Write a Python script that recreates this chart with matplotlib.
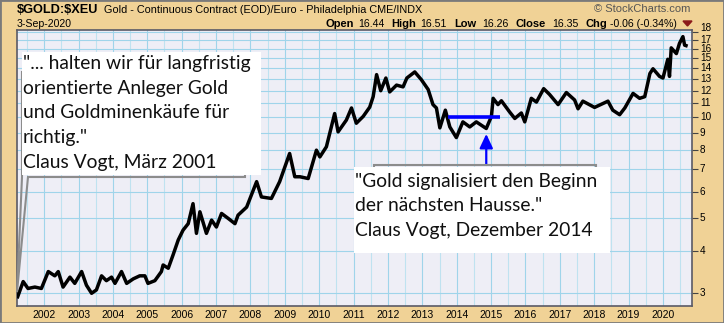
import numpy as np
import matplotlib
matplotlib.use('Agg')
import matplotlib.pyplot as plt
from matplotlib.patches import Rectangle, Polygon
from matplotlib.ticker import FixedLocator, NullLocator, NullFormatter
from matplotlib.transforms import blended_transform_factory, offset_copy

# gold / euro ratio (decimal year, value)
years = [2001.23, 2001.39, 2001.53, 2001.73, 2001.92, 2002.12, 2002.31, 2002.41, 2002.55, 2002.75,
         2002.89, 2003.09, 2003.23, 2003.38, 2003.52, 2003.67, 2003.81, 2003.96, 2004.06, 2004.25,
         2004.40, 2004.59, 2004.78, 2004.93, 2005.02, 2005.22, 2005.41, 2005.46, 2005.61, 2005.75,
         2005.90, 2006.04, 2006.19, 2006.33, 2006.43, 2006.53, 2006.72, 2006.87, 2007.01, 2007.16,
         2007.35, 2007.55, 2007.64, 2007.89, 2008.18, 2008.32, 2008.61, 2008.85, 2009.14, 2009.29,
         2009.44, 2009.68, 2009.92, 2010.02, 2010.21, 2010.45, 2010.55, 2010.79, 2010.94, 2011.08,
         2011.28, 2011.47, 2011.57, 2011.67, 2011.79, 2011.94, 2012.05, 2012.25, 2012.44, 2012.55,
         2012.78, 2012.97, 2013.17, 2013.31, 2013.41, 2013.51, 2013.67, 2013.80, 2013.99, 2014.18,
         2014.38, 2014.57, 2014.86, 2015.01, 2015.06, 2015.20, 2015.30, 2015.54, 2015.69, 2015.88,
         2015.98, 2016.17, 2016.32, 2016.53, 2016.70, 2016.95, 2017.19, 2017.43, 2017.53, 2017.67,
         2018.01, 2018.40, 2018.54, 2018.74, 2018.89, 2019.13, 2019.32, 2019.47, 2019.62, 2019.71,
         2019.90, 2020.00, 2020.14, 2020.19, 2020.24, 2020.39, 2020.48, 2020.58, 2020.63, 2020.67]
ratio = [2.92, 3.24, 3.09, 3.12, 3.09, 3.47, 3.37, 3.47, 3.12, 3.34,
         3.20, 3.47, 3.16, 2.99, 3.06, 3.37, 3.26, 3.34, 3.20, 3.47,
         3.20, 3.30, 3.37, 3.37, 3.20, 3.26, 3.47, 3.63, 3.55, 3.89,
         4.31, 4.61, 4.82, 5.53, 4.51, 5.23, 4.51, 4.94, 4.71, 5.17,
         5.00, 4.82, 5.11, 5.40, 6.43, 5.79, 5.73, 6.43, 7.80, 6.65,
         6.65, 6.57, 7.98, 7.62, 8.17, 10.26, 9.05, 9.81, 10.66, 9.60,
         10.06, 10.72, 11.52, 13.40, 12.00, 13.09, 11.90, 12.47, 12.32, 13.09,
         13.65, 12.95, 12.10, 10.91, 10.66, 9.30, 10.50, 9.36, 8.70, 9.69,
         9.36, 9.69, 9.26, 10.06, 11.39, 10.91, 11.20, 10.37, 9.92, 10.30,
         9.69, 11.39, 11.10, 12.17, 11.70, 10.91, 11.85, 11.26, 10.60, 11.17,
         10.70, 11.17, 10.50, 10.18, 10.66, 11.78, 11.39, 11.52, 13.50, 13.95,
         13.24, 13.09, 14.89, 13.24, 16.10, 15.48, 16.60, 17.39, 16.40, 16.35]

year_ticks = list(range(2002, 2021))
price_ticks = list(range(3, 19))

# blue resistance line and arrow
level_line = 10.0
level_from, level_to = 2013.75, 2015.27
arrow_year, arrow_tip, arrow_base = 2014.86, 8.92, 7.21

quote1 = ['"... halten wir für langfristig', 'orientierte Anleger Gold',
          'und Goldminenkäufe für', 'richtig."', 'Claus Vogt, März 2001']
quote2 = ['"Gold signalisiert den Beginn', 'der nächsten Hausse."', 'Claus Vogt, Dezember 2014']

W, H = 724, 323
TAN = '#F0D296'
fig = plt.figure(figsize=(W / 100, H / 100), dpi=100, facecolor=TAN)


def px(x, y):
    return x / W, 1 - y / H


ax = fig.add_axes([17 / W, 1 - 306 / H, (691.5 - 17) / W, (306 - 30) / H])
ax.set_facecolor('#EEEEF6')
ax.set_yscale('log')
ax.set_xlim(2001.21, 2020.83)
ax.set_ylim(2.74, 18.2)

hdr = 'Liberation Sans'

# y labels drawn by hand so the crowded 18 label can be nudged up
ax.yaxis.set_major_locator(FixedLocator(price_ticks))
ax.yaxis.set_minor_locator(NullLocator())
ax.yaxis.set_minor_formatter(NullFormatter())
ax.set_yticklabels([])
ax.yaxis.tick_right()
ax.tick_params(axis='y', which='major', length=4, width=0.8, color='#444444')
ytrans = blended_transform_factory(ax.transAxes, ax.transData)
nudge = {18: 2.3}
for t in price_ticks:
    tr = offset_copy(ytrans, fig=fig, x=6, y=nudge.get(t, 0), units='points')
    ax.text(1.0, t, str(t), transform=tr, fontsize=7.2, family=hdr, va='center', ha='left',
            clip_on=False)

ax.set_xticks(year_ticks)
ax.set_xticklabels([str(t) for t in year_ticks])
ax.set_xticks([y + 0.5 for y in range(2001, 2021)], minor=True)
ax.tick_params(axis='x', which='both', length=0, pad=3, labelsize=7.5, labelcolor='black')
for lab in ax.get_xticklabels():
    lab.set_fontfamily(hdr)

ax.grid(True, which='major', axis='both', color='#9FD4EA', lw=0.8)
ax.grid(True, which='minor', axis='x', color='#BFE2F0', lw=0.8)
ax.set_axisbelow(True)
for s in ax.spines.values():
    s.set_color('#5A5A66')
    s.set_linewidth(1.2)

ax.plot(years, ratio, color='black', lw=2.5, solid_joinstyle='round', zorder=3)

ax.hlines(level_line, level_from, level_to, color='#0000FF', lw=2.6, zorder=4)
ax.annotate('', xy=(arrow_year, arrow_tip), xytext=(arrow_year, arrow_base),
            arrowprops=dict(arrowstyle='-|>,head_length=0.85,head_width=0.4', color='#0000FF',
                            lw=1.6, mutation_scale=10, shrinkA=0, shrinkB=0), zorder=4)

# header
fig.text(*px(17, 10), r'\$GOLD:\$XEU', fontsize=9.2, fontweight='bold', family=hdr, va='center')
fig.text(*px(104, 10), 'Gold - Continuous Contract (EOD)/Euro - Philadelphia CME/INDX',
         fontsize=7.8, family=hdr, va='center')
fig.text(*px(17, 24), '3-Sep-2020', fontsize=7.6, family=hdr, va='center')
fig.text(*px(690, 9), '© StockCharts.com', fontsize=8, family=hdr, va='center', ha='right',
         color='#555555')
quote_parts = [(325, 'Open', True), (358, '16.44', False), (391, 'High', True), (420, '16.51', False),
               (454, 'Low', True), (482, '16.26', False), (516, 'Close', True), (552, '16.35', False),
               (585, 'Chg', True), (610, '-0.06 (-0.34%)', False)]
for xp, txt, bold in quote_parts:
    fig.text(*px(xp, 24), txt, fontsize=8 if bold else 7.6, family=hdr,
             fontweight='bold' if bold else 'normal', va='center')
fig.patches.append(Polygon([px(683, 21), px(692, 21), px(687.5, 26)], closed=True,
                           transform=fig.transFigure, color='#8B1A1A'))

# callout boxes
gray = '#8C8C8C'
fig.patches.append(Polygon([px(22, 72), px(245, 72), px(245, 177), px(28, 177), px(17, 292),
                            px(22, 177)], closed=True, transform=fig.transFigure,
                           facecolor='none', edgecolor=gray, lw=1.5, zorder=2))
fig.patches.append(Rectangle(px(22, 175), 239 / W, 123.3 / H, transform=fig.transFigure,
                             facecolor='white', edgecolor='none', zorder=3))
fig.patches.append(Rectangle(px(374, 250), 222 / W, 85 / H, transform=fig.transFigure,
                             facecolor='none', edgecolor=gray, lw=1.5, zorder=2))
fig.patches.append(Rectangle(px(354, 253.3), 256 / W, 86.6 / H, transform=fig.transFigure,
                             facecolor='white', edgecolor='none', zorder=3))

qfont = 'Lato'
for i, line in enumerate(quote1):
    fig.text(*px(23, 63.3 + 24.85 * i), line, fontsize=13.9, family=qfont, va='center',
             color='#101010', zorder=4)
for i, line in enumerate(quote2):
    fig.text(*px(355, 181.7 + 24.2 * i), line, fontsize=13.9, family=qfont, va='center',
             color='#101010', zorder=4)

# outer frame
fig.patches.append(Rectangle((0, 0), 1, 1, transform=fig.transFigure, facecolor='none',
                             edgecolor='#7A7A7A', lw=2, zorder=5))

fig.savefig('out.png', dpi=100, facecolor=TAN)
